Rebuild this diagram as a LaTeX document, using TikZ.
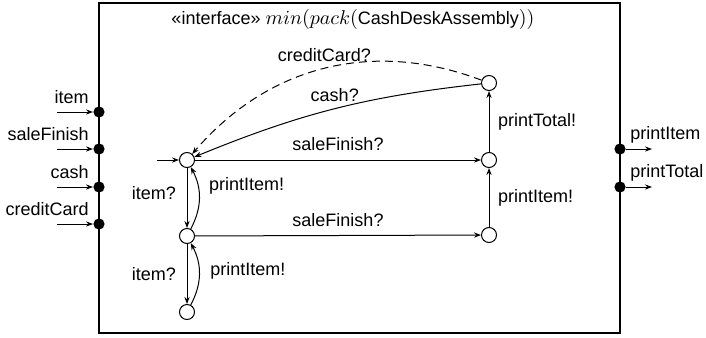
\documentclass[tikz,border=0pt]{standalone}
\usepackage{fontspec}
\setmainfont{Liberation Sans}
\usetikzlibrary{arrows.meta}
\begin{document}
\begin{tikzpicture}[x=0.5pt,y=0.5pt,
 every node/.style={font=\fontsize{9}{11}\selectfont},
 state/.style={circle,draw,minimum size=7.5pt,inner sep=0pt,line width=0.5pt,fill=white},
 port/.style={circle,fill=black,minimum size=5.6pt,inner sep=0pt},
 tr/.style={-{Stealth[length=3.5pt,width=2.6pt]},line width=0.5pt},
 dsh/.style={dash pattern=on 4pt off 2.5pt}]
\useasboundingbox (0,0) rectangle (706,-337);
\draw[line width=0.7pt] (99,-3) rectangle (620,-333);
\node (title) at (353,-20) {«interface» {\fontsize{10}{12}\selectfont$min(pack($\fontsize{9}{11}\selectfont CashDeskAssembly\fontsize{10}{12}\selectfont$))$}};
% states
\node[state] (s0) at (187,-160) {};
\node[state] (s1) at (187,-236) {};
\node[state] (s2) at (187,-312) {};
\node[state] (s3) at (489,-160) {};
\node[state] (s4) at (489,-235) {};
\node[state] (s5) at (489,-83) {};
\coordinate (init) at (157,-160);
\draw[tr] (init) -- (s0);
% transitions
\draw[tr] (s0) -- node[above,yshift=1pt] (l1) {saleFinish?} (s3);
\draw[tr] (s1) -- node[above,yshift=1pt] (l2) {saleFinish?} (s4);
\draw[tr] (s0) -- node[left,pos=0.42,xshift=-2pt] (l3) {item?} (s1);
\draw[tr] (s1) to[bend right=28] node[right,pos=0.7,xshift=2pt] (l4) {printItem!} (s0);
\draw[tr] (s1) -- node[left,xshift=-2pt] (l5) {item?} (s2);
\draw[tr] (s2) to[bend right=28] node[right,pos=0.55,xshift=2pt] (l6) {printItem!} (s1);
\draw[tr] (s4) -- node[right,xshift=1pt] (l7) {printItem!} (s3);
\draw[tr] (s3) -- node[right,xshift=1pt] (l8) {printTotal!} (s5);
\draw[tr] (s5) to[bend right=8] node[above,pos=0.5] (l9) {cash?} (s0);
\draw[tr,dsh] (s5) to[bend right=35] node[above,pos=0.5] (l10) {creditCard?} (s0);
% input ports
\node[port] (pin1) at (99,-112) {};
\node[port] (pin2) at (99,-149) {};
\node[port] (pin3) at (99,-187) {};
\node[port] (pin4) at (99,-224) {};
\coordinate (ain1) at (57,-112);
\coordinate (ain2) at (57,-149);
\coordinate (ain3) at (57,-187);
\coordinate (ain4) at (57,-224);
\draw[tr] (ain1) -- (pin1);
\draw[tr] (ain2) -- (pin2);
\draw[tr] (ain3) -- (pin3);
\draw[tr] (ain4) -- (pin4);
\node[anchor=base east,inner sep=0pt] (tin1) at (89,-103) {item};
\node[anchor=base east,inner sep=0pt] (tin2) at (89,-140) {saleFinish};
\node[anchor=base east,inner sep=0pt] (tin3) at (89,-178) {cash};
\node[anchor=base east,inner sep=0pt] (tin4) at (89,-215) {creditCard};
% output ports
\node[port] (pout1) at (620,-149) {};
\node[port] (pout2) at (620,-187) {};
\coordinate (aout1) at (652,-149);
\coordinate (aout2) at (652,-187);
\draw[tr] (pout1) -- (aout1);
\draw[tr] (pout2) -- (aout2);
\node[anchor=base west,inner sep=0pt] (tout1) at (630,-139) {printItem};
\node[anchor=base west,inner sep=0pt] (tout2) at (630,-177) {printTotal};
\end{tikzpicture}
\end{document}
